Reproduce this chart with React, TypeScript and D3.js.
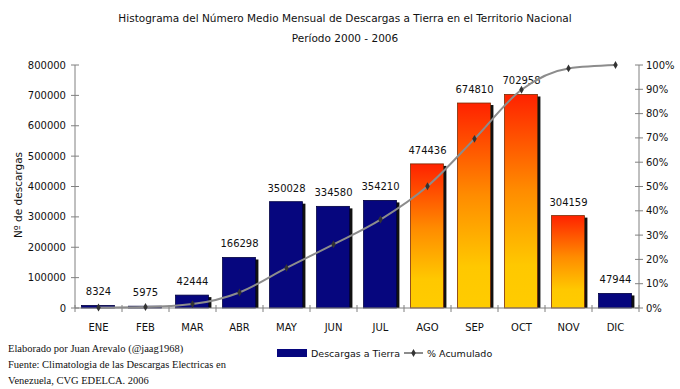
import React, { useEffect, useRef } from 'react';
import * as d3 from 'd3';

const months = ['ENE', 'FEB', 'MAR', 'ABR', 'MAY', 'JUN', 'JUL', 'AGO', 'SEP', 'OCT', 'NOV', 'DIC'];
const descargas = [8324, 5975, 42444, 166298, 350028, 334580, 354210, 474436, 674810, 702958, 304159, 47944];
const acumulado = [0.2, 0.4, 1.6, 6.4, 16.5, 26.2, 36.4, 50.1, 69.6, 89.8, 98.6, 100];
const hotMonths = ['AGO', 'SEP', 'OCT', 'NOV'];
const leftTicks = [0, 100000, 200000, 300000, 400000, 500000, 600000, 700000, 800000];
const rightTicks = [0, 10, 20, 30, 40, 50, 60, 70, 80, 90, 100];
const footer = [
  'Elaborado por Juan Arevalo (@jaag1968)',
  'Fuente: Climatologia de las Descargas Electricas en',
  'Venezuela, CVG EDELCA. 2006',
];

const W = 680;
const H = 389;
const left = 75;
const right = 639;
const top = 65;
const bottom = 308;
const sans = 'DejaVu Sans, Verdana, sans-serif';

export default function App() {
  const svgRef = useRef<SVGSVGElement>(null);

  useEffect(() => {
    if (!svgRef.current) return;
    const svg = d3.select(svgRef.current);
    svg.selectAll('*').remove();

    const x = d3.scaleBand<string>().domain(months).range([left, right]).paddingInner(0.28).paddingOuter(0.14);
    const y = d3.scaleLinear().domain([0, 800000]).range([bottom, top]);
    const yp = d3.scaleLinear().domain([0, 100]).range([bottom, top]);
    const step = x.step();
    const bw = x.bandwidth();

    const defs = svg.append('defs');
    const grad = defs.append('linearGradient').attr('id', 'hot').attr('x1', 0).attr('y1', 0).attr('x2', 0).attr('y2', 1);
    grad.append('stop').attr('offset', '0%').attr('stop-color', '#ff2200');
    grad.append('stop').attr('offset', '45%').attr('stop-color', '#ff8c00');
    grad.append('stop').attr('offset', '80%').attr('stop-color', '#ffc800');
    grad.append('stop').attr('offset', '100%').attr('stop-color', '#ffcc00');

    // title
    svg.append('text').attr('x', 345).attr('y', 22).attr('text-anchor', 'middle')
      .style('font-family', sans).style('font-size', '10.5px').attr('fill', '#111')
      .text('Histograma del Número Medio Mensual de Descargas a Tierra en el Territorio Nacional');
    svg.append('text').attr('x', 345).attr('y', 42).attr('text-anchor', 'middle')
      .style('font-family', sans).style('font-size', '10.5px').attr('fill', '#111')
      .text('Período 2000 - 2006');

    // bars with shadow
    const bars = svg.append('g');
    months.forEach((m, i) => {
      const x0 = x(m)!;
      const y0 = y(descargas[i]);
      const hot = hotMonths.includes(m);
      bars.append('rect').attr('x', x0 + 3).attr('y', y0 + 2).attr('width', bw - 1).attr('height', bottom - y0 - 2)
        .attr('fill', '#111');
      bars.append('rect').attr('x', x0).attr('y', y0).attr('width', bw - 1).attr('height', bottom - y0)
        .attr('fill', hot ? 'url(#hot)' : '#06067e')
        .attr('stroke', hot ? '#7a2a00' : '#000040').attr('stroke-width', 0.8);
      svg.append('text').attr('x', x0 + bw / 2).attr('y', y0 - 10).attr('text-anchor', 'middle')
        .style('font-family', sans).style('font-size', '10px').attr('fill', '#111')
        .text(String(descargas[i]));
    });

    // axes
    const axis = svg.append('g').attr('stroke', '#808080').attr('stroke-width', 1);
    axis.append('line').attr('x1', left).attr('x2', left).attr('y1', top).attr('y2', bottom);
    axis.append('line').attr('x1', right).attr('x2', right).attr('y1', top).attr('y2', bottom);
    axis.append('line').attr('x1', left).attr('x2', right).attr('y1', bottom).attr('y2', bottom);
    leftTicks.forEach(t => {
      axis.append('line').attr('x1', left - 4).attr('x2', left + 4).attr('y1', y(t)).attr('y2', y(t));
      svg.append('text').attr('x', left - 9).attr('y', y(t) + 3.5).attr('text-anchor', 'end')
        .style('font-family', sans).style('font-size', '10px').attr('fill', '#111').text(String(t));
    });
    rightTicks.forEach(t => {
      axis.append('line').attr('x1', right - 4).attr('x2', right + 4).attr('y1', yp(t)).attr('y2', yp(t));
      svg.append('text').attr('x', right + 7).attr('y', yp(t) + 3.5)
        .style('font-family', sans).style('font-size', '10px').attr('fill', '#111').text(`${t}%`);
    });
    d3.range(months.length + 1).forEach(i => {
      const xx = left + i * step;
      axis.append('line').attr('x1', xx).attr('x2', xx).attr('y1', bottom - 3).attr('y2', bottom + 4);
    });
    months.forEach(m => {
      svg.append('text').attr('x', x(m)! + bw / 2).attr('y', bottom + 23).attr('text-anchor', 'middle')
        .style('font-family', sans).style('font-size', '10px').attr('fill', '#111').text(m);
    });

    svg.append('text').attr('transform', `translate(22,195) rotate(-90)`).attr('text-anchor', 'middle')
      .style('font-family', sans).style('font-size', '10.5px').attr('fill', '#111').text('Nº de descargas');

    // cumulative line
    const line = d3.line<number>()
      .x((_, i) => x(months[i])! + bw / 2)
      .y(d => yp(d))
      .curve(d3.curveMonotoneX);
    svg.append('path').attr('d', line(acumulado)).attr('fill', 'none').attr('stroke', '#8c8c8c').attr('stroke-width', 2);
    const diamond = d3.symbol().type(d3.symbolDiamond).size(18);
    svg.append('g').selectAll('path').data(acumulado).enter().append('path')
      .attr('d', diamond)
      .attr('transform', (d, i) => `translate(${x(months[i])! + bw / 2},${yp(d)})`)
      .attr('fill', '#333');

    // legend
    svg.append('rect').attr('x', 277).attr('y', 349).attr('width', 30).attr('height', 8).attr('fill', '#06067e');
    svg.append('text').attr('x', 311).attr('y', 357).style('font-family', sans).style('font-size', '9.5px')
      .attr('fill', '#111').text('Descargas a Tierra');
    svg.append('line').attr('x1', 404).attr('x2', 423).attr('y1', 353).attr('y2', 353).attr('stroke', '#8c8c8c').attr('stroke-width', 2);
    svg.append('path').attr('d', diamond).attr('transform', 'translate(413.5,353)').attr('fill', '#333');
    svg.append('text').attr('x', 427).attr('y', 357).style('font-family', sans).style('font-size', '9.5px')
      .attr('fill', '#111').text('% Acumulado');

    // footer
    footer.forEach((t, i) => {
      svg.append('text').attr('x', 8).attr('y', 352 + i * 16)
        .style('font-family', 'Liberation Serif, serif').style('font-size', '10.5px').attr('fill', '#111').text(t);
    });
  }, []);

  return (
    <div style={{ position: 'fixed', left: 0, top: 0, background: '#fff' }}>
      <svg ref={svgRef} width={W} height={H} />
    </div>
  );
}
